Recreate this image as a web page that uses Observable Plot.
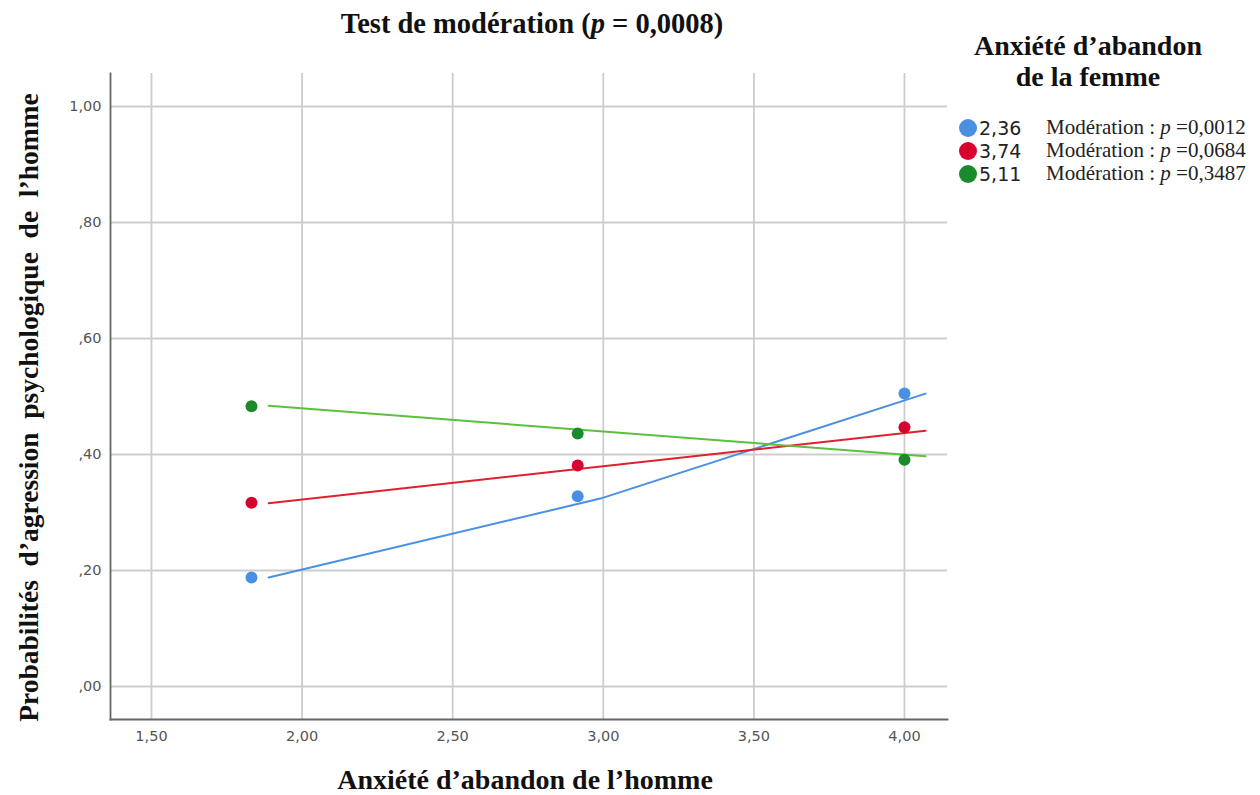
<!DOCTYPE html>
<html>
<head>
<meta charset="utf-8">
<script src="https://cdn.jsdelivr.net/npm/d3@7"></script>
<script src="https://cdn.jsdelivr.net/npm/@observablehq/plot@0.6"></script>
<style>
  html, body { margin: 0; padding: 0; background: #fff; }
  #wrap { position: relative; width: 1260px; height: 795px; overflow: hidden; }
  #title { position: absolute; left: 0; width: 1064px; top: 8px; text-align: center;
    font: bold 28.5px "Liberation Serif", "Times New Roman", serif; color: #111; }
  #legend { position: absolute; left: 959px; top: 30px; width: 300px; }
  #legend .lt { text-align: center; width: 258px; font: bold 28px "Liberation Serif", serif; line-height: 31px; color: #111; }
  #legend .row { display: flex; align-items: center; height: 23px; }
  #legend .sw { width: 18px; height: 18px; border-radius: 50%; margin-right: 2px; }
  #legend .val { width: 67px; font: 19px "DejaVu Sans", sans-serif; color: #222; }
  #legend .mod { font: 21px "Liberation Serif", serif; color: #222; white-space: nowrap; }
  #chart { position: absolute; left: 0; top: 0; }
</style>
</head>
<body>
<div id="wrap">
  <div id="chart"></div>
  <div id="title">Test de modération (<i>p</i> = 0,0008)</div>
  <div id="legend"></div>
</div>
<script>
// ---- data ----
const seriesNames = ["2,36", "3,74", "5,11"];
const seriesPValues = ["0,0012", "0,0684", "0,3487"];
const pointColors = ["#4a90e2", "#d8022f", "#1b8a2b"];
const lineColors = ["#4a90e2", "#e0202e", "#5cbf3e"];

const pointX = [1.832, 2.915, 4.00];
const pointY236 = [0.188, 0.328, 0.505];
const pointY374 = [0.317, 0.381, 0.447];
const pointY511 = [0.483, 0.436, 0.391];

const lineX236 = [1.889, 2.99, 4.07];
const lineY236 = [0.188, 0.324, 0.505];
const lineX374 = [1.889, 4.07];
const lineY374 = [0.316, 0.441];
const lineX511 = [1.889, 4.07];
const lineY511 = [0.484, 0.397];

const xTicks = [1.5, 2.0, 2.5, 3.0, 3.5, 4.0];
const xTickLabels = ["1,50", "2,00", "2,50", "3,00", "3,50", "4,00"];
const yTicks = [0, 0.2, 0.4, 0.6, 0.8, 1.0];
const yTickLabels = [",00", ",20", ",40", ",60", ",80", "1,00"];

const xTitle = "Anxiété d’abandon de l’homme";
const yTitle = "Probabilités  d’agression  psychologique  de  l’homme";
const legendTitle = ["Anxiété d’abandon", "de la femme"];

// ---- build tables ----
const pointYs = [pointY236, pointY374, pointY511];
const lineXs = [lineX236, lineX374, lineX511];
const lineYs = [lineY236, lineY374, lineY511];
const points = [];
seriesNames.forEach((s, i) => pointX.forEach((x, j) => points.push({series: s, x, y: pointYs[i][j]})));
const lines = [];
seriesNames.forEach((s, i) => lineXs[i].forEach((x, j) => lines.push({series: s, x, y: lineYs[i][j]})));

const xFmt = d => xTickLabels[xTicks.findIndex(t => Math.abs(t - d) < 1e-9)];
const yFmt = d => yTickLabels[yTicks.findIndex(t => Math.abs(t - d) < 1e-9)];

const chart = Plot.plot({
  width: 1260,
  height: 795,
  marginTop: 73,
  marginBottom: 76,
  marginLeft: 110,
  marginRight: 313,
  x: {domain: [1.3639, 4.1428], ticks: xTicks, tickFormat: xFmt},
  y: {domain: [-0.0569, 1.0569], ticks: yTicks, tickFormat: yFmt},
  style: {fontFamily: "DejaVu Sans, sans-serif"},
  marks: [
    Plot.gridX(xTicks, {stroke: "#cdcdcd", strokeOpacity: 1, strokeWidth: 1.8}),
    Plot.gridY(yTicks, {stroke: "#cdcdcd", strokeOpacity: 1, strokeWidth: 1.8}),
    Plot.frame({anchor: "left", stroke: "#666", strokeWidth: 1.8}),
    Plot.frame({anchor: "bottom", stroke: "#666", strokeWidth: 1.8}),
    Plot.axisX(xTicks, {tickSize: 0, tickPadding: 11, fontSize: 14.5, fill: "#555", label: null, tickFormat: xFmt}),
    Plot.axisY(yTicks, {tickSize: 0, tickPadding: 9, fontSize: 14.5, fill: "#555", label: null, tickFormat: yFmt}),
    Plot.line(lines, {x: "x", y: "y", z: "series", stroke: d => lineColors[seriesNames.indexOf(d.series)], strokeWidth: 2}),
    Plot.dot(points, {x: "x", y: "y", r: 6, fill: d => pointColors[seriesNames.indexOf(d.series)], stroke: "none"}),
    Plot.text([xTitle], {frameAnchor: "bottom", dx: -4, dy: 69, fontSize: 28, fontWeight: "bold",
      fontFamily: "Liberation Serif, Times New Roman, serif", fill: "#111"}),
    Plot.text([yTitle], {frameAnchor: "left", textAnchor: "middle", dx: -81, dy: 11, rotate: -90, fontSize: 27.5, fontWeight: "bold",
      fontFamily: "Liberation Serif, Times New Roman, serif", fill: "#111"})
  ]
});
document.getElementById("chart").appendChild(chart);

// ---- legend ----
const lg = document.getElementById("legend");
legendTitle.forEach(t => {
  const d = document.createElement("div");
  d.className = "lt";
  d.textContent = t;
  lg.appendChild(d);
});
const sp = document.createElement("div");
sp.style.height = "24px";
lg.appendChild(sp);
seriesNames.forEach((s, i) => {
  const row = document.createElement("div");
  row.className = "row";
  const sw = document.createElement("div");
  sw.className = "sw";
  sw.style.background = pointColors[i];
  const v = document.createElement("div");
  v.className = "val";
  v.textContent = s;
  const m = document.createElement("div");
  m.className = "mod";
  m.innerHTML = "Modération : <i>p</i> =" + seriesPValues[i];
  row.appendChild(sw); row.appendChild(v); row.appendChild(m);
  lg.appendChild(row);
});
</script>
</body>
</html>
